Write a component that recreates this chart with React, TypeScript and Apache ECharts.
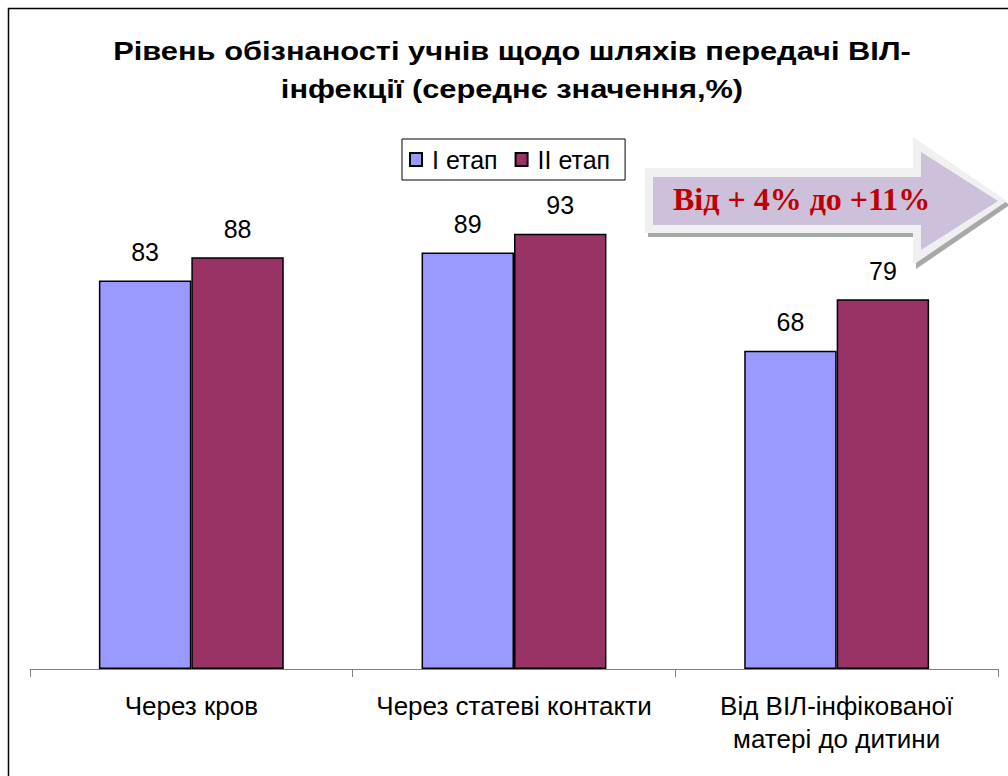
import React, { useEffect, useRef } from "react";
import * as echarts from "echarts";

const titleText = "Рівень обізнаності учнів щодо шляхів передачі ВІЛ-\nінфекції (середнє значення,%)";
const categories = ["Через кров", "Через статеві контакти", "Від ВІЛ-інфікованої\nматері до дитини"];
const seriesNames = ["І етап", "ІІ етап"];
const stage1 = [83, 89, 68];
const stage2 = [88, 93, 79];
const arrowText = "Від + 4% до +11%";

const FONT = "'Liberation Sans', Arial, sans-serif";

export default function App() {
  const ref = useRef<HTMLDivElement>(null);
  useEffect(() => {
    if (!ref.current) return;
    const chart = echarts.init(ref.current, null, { renderer: "svg" });
    const labelCfg = {
      show: true,
      position: "top",
      distance: 16,
      fontSize: 25,
      color: "#000",
      fontFamily: FONT,
    };
    chart.setOption({
      animation: false,
      backgroundColor: "#fff",
      textStyle: { fontFamily: FONT },
      legend: {
        data: seriesNames,
        left: 402,
        top: 139,
        orient: "horizontal",
        icon: "rect",
        itemWidth: 12,
        itemHeight: 13,
        itemGap: 17,
        padding: [8, 15, 8, 7],
        borderColor: "#000",
        borderWidth: 1,
        textStyle: {
          fontSize: 25,
          color: "#000",
          fontFamily: FONT,
          padding: [0, 0, 0, 5],
        },
        itemStyle: { borderColor: "#000", borderWidth: 2 },
      },
      grid: { left: 30, right: 10, top: 201, bottom: 107, containLabel: false },
      xAxis: {
        type: "category",
        data: categories,
        axisLine: { show: true, lineStyle: { color: "#808080", width: 1 } },
        axisTick: { show: true, length: 8, lineStyle: { color: "#808080" } },
        axisLabel: {
          fontSize: 26,
          lineHeight: 33,
          color: "#000",
          margin: 20,
          interval: 0,
          fontFamily: FONT,
        },
      },
      yAxis: {
        type: "value",
        min: 0,
        max: 100,
        show: false,
        splitLine: { show: false },
      },
      series: [
        {
          name: seriesNames[0],
          type: "bar",
          data: stage1,
          barGap: "0%",
          barCategoryGap: "42.7%",
          itemStyle: { color: "#9999ff", borderColor: "#000", borderWidth: 1.5 },
          label: labelCfg,
        },
        {
          name: seriesNames[1],
          type: "bar",
          data: stage2,
          barGap: "0%",
          barCategoryGap: "42.7%",
          itemStyle: { color: "#993366", borderColor: "#000", borderWidth: 1.5 },
          label: labelCfg,
        },
      ],
      graphic: [
        {
          type: "rect",
          shape: { x: 8.5, y: 8.5, width: 1200, height: 1000 },
          style: { fill: "none", stroke: "#000", lineWidth: 1.5 },
          silent: true,
        },
        {
          type: "text",
          x: 512,
          y: 32,
          scaleX: 1.186,
          style: {
            text: titleText,
            fontSize: 26,
            fontWeight: "bold",
            fontFamily: FONT,
            lineHeight: 38,
            textAlign: "center",
            textVerticalAlign: "top",
            fill: "#000",
          },
        },
        {
          type: "polygon",
          shape: {
            points: [
              [648, 172], [916, 172], [916, 141], [1010, 205], [916, 269], [916, 237], [648, 237],
            ],
          },
          style: { fill: "#a8a8a8" },
          silent: true,
        },
        {
          type: "polygon",
          shape: {
            points: [
              [645, 168], [913, 168], [913, 137], [1007, 201], [913, 265], [913, 233], [645, 233],
            ],
          },
          style: { fill: "#f0f0f0" },
          silent: true,
        },
        {
          type: "polygon",
          shape: {
            points: [
              [653, 177], [921, 177], [921, 152], [998, 201], [921, 250], [921, 225], [653, 225],
            ],
          },
          style: { fill: "#ccc0da" },
          silent: true,
        },
        {
          type: "text",
          x: 673,
          y: 199,
          style: {
            text: arrowText,
            fontSize: 32,
            fontWeight: "bold",
            fontFamily: "'Liberation Serif', 'Times New Roman', serif",
            textAlign: "left",
            textVerticalAlign: "middle",
            fill: "#c00000",
          },
        },
      ],
    });
    return () => chart.dispose();
  }, []);
  return (
    <div
      ref={ref}
      style={{ position: "absolute", left: 0, top: 0, width: 1008, height: 776 }}
    />
  );
}
